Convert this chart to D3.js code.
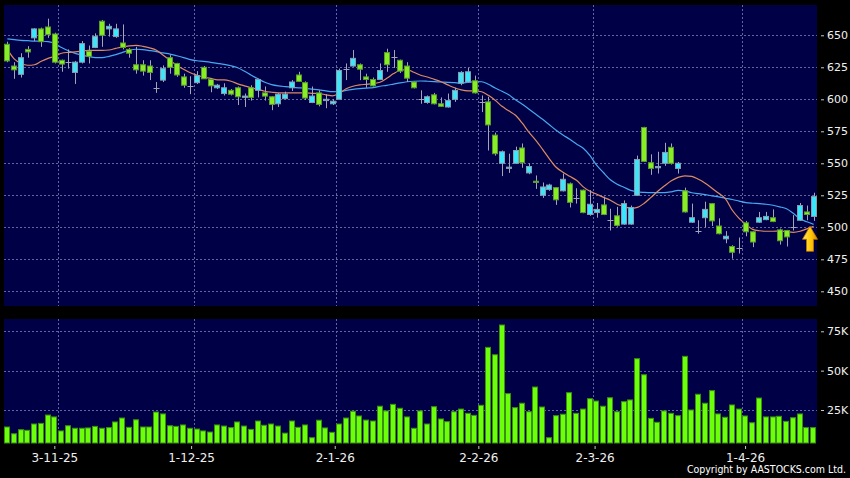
<!DOCTYPE html>
<html>
<head>
<meta charset="utf-8">
<script src="https://d3js.org/d3.v7.min.js"></script>
<style>
body {margin:0; background:#000;}
svg {display:block; font-family:"DejaVu Sans", sans-serif;}
</style>
</head>
<body>
<svg id="chart" width="850" height="478"></svg>
<script>
// daily candles, oldest first (HK$)
var opens = [643,626,619.5,639,648,655,656.5,651,630.5,629.5,
  621,629,637.5,640.5,661,655,649,644,639,627,
  627,626,609,615,632.5,628,617.5,610,613,625,
  615.5,609,604.5,607,609,601.5,609,607,605,602,
  596.5,600.5,609,619,613,597.5,605,599,596.5,600,
  624,626,627,617.5,615.5,615.5,636.5,633,630.5,626,
  613.5,600,597.5,603.5,596.5,594,600,612.5,613.5,614.5,
  598,598,572,550,546,550,562,542.5,536,525,
  529.5,531,528.5,534,522.5,529,510,511.5,517.5,506,
  509,502.5,502.5,525,578,550.5,546.5,550,562.5,546,
  528.5,504,497.5,507.5,518.5,501,491,485,484,503.5,
  496.5,504,506,507.5,498,497.5,500,505.5,512,508.5];
var highs = [645,629,636,641.5,655.5,656,663,652,631,639,
  630,645.5,642,651.5,662,659,659,658.5,640,641,
  630.5,630.5,613.5,626.5,634.5,628.5,620,618,622,626,
  616.5,612,612.5,608,610,604.5,611,616,610,602.5,
  605,606,615,621.5,614,610,607,604,600,624,
  628,638.5,628,620,617,628,639.5,638.5,631,629,
  614,607,603,605,601.5,604.5,609,622,624.5,618.5,
  603,602,574,560,557.5,563,565.5,550,540.5,535,
  534,531.5,542,535,530.5,529.5,529,519,524,514.5,
  516,521,517,556,578.5,557,559,566,565.5,551,
  531,518.5,505.5,520,519,507,497,486,492,505,
  497,512,512,514,499,498,509.5,519,517,527];
var lows = [629,616,617,632.5,645.5,641,648,628,621.5,624,
  612,628,628,640,641,649,648,639,632.5,620,
  618.5,615,605,613.5,620,617.5,609,604,612,616,
  605.5,608,603,603,595.5,594,599,601.5,599,591.5,
  594,600,606.5,613.5,599.5,597,594.5,593,595.5,600,
  615,625.5,615,609,610,615,621.5,624.5,620.5,613.5,
  608.5,596.5,596.5,596,594,593.5,598,611,613,604.5,
  590,560,556,540,542.5,549.5,546.5,541.5,530,523,
  528.5,517.5,528,515.5,518.5,511,509,507.5,509.5,497.5,
  500.5,502,502,524.5,551,541,542,548,549,542,
  511.5,503.5,495,500,501,494.5,487.5,475.5,479.5,493,
  484.5,503.5,505.5,504,486.5,485,497.5,505,505.5,505];
var closes = [630,623,632.5,637,655,645,650.5,629,627.5,629.5,
  629,643.5,633.5,649,650,657,655,640.5,636,623,
  622,621,609,624,625,619,611,610,618.5,616,
  610.5,611,609,604,602,602.5,601.5,615.5,602.5,596,
  604,604,613.5,614,601,602.5,596,600,598.5,622.5,
  624,632,623.5,615.5,610.5,622.5,627,633,622,616.5,
  609,600,602,596.5,594.5,599,607,621,621.5,605,
  598,580,557.5,559,547,560,550.5,547.5,535,531.5,
  533,521.5,537.5,519.5,522.5,511.5,518,514,510,506,
  501.5,518.5,515.5,553,551.5,546,547.5,558.5,550,550,
  512,507.5,497.5,514,505,495,493,480.5,484,496.5,
  488.5,507.5,508.5,504.5,489.5,492.5,500,517,510,524];
// volume in thousands of shares
var volumes = [14.2,9.9,12.5,12.1,16.1,16.5,21.8,20.6,11.7,15.0,
  13.4,13.4,13.6,14.6,13.4,13.8,17.4,19.9,14.0,18.8,
  14.2,14.2,23.7,22.5,15.0,14.6,15.5,13.4,12.9,11.7,
  11.0,15.5,14.8,13.8,17.4,14.8,12.7,18.0,15.3,16.1,
  14.8,10.3,18.0,14.0,15.5,7.4,18.5,13.6,10.8,16.1,
  19.9,24.2,21.2,18.6,18.0,27.4,24.4,28.6,26.1,20.6,
  13.4,24.4,16.1,27.1,19.3,17.6,23.9,25.6,22.9,21.6,
  28.0,64.8,60.1,79.0,35.4,26.5,29.3,23.9,39.6,26.9,
  7.4,21.4,22.3,36.0,22.9,25.6,32.2,30.7,27.4,32.8,
  23.9,30.3,31.4,57.6,47.4,19.7,17.2,24.4,22.9,21.4,
  59.1,25.0,35.0,29.3,37.3,22.5,20.4,28.2,25.6,21.2,
  16.9,32.6,20.6,20.6,21.0,17.8,20.1,22.5,13.8,13.8];
// moving averages as drawn (orange = short, blue = long)
var maShort = [639,631.6,628.1,626.6,627,629.7,632,633.6,636,636.7,
  637.1,637.7,638.3,638.3,638.3,638.5,639.8,641,641.8,642.2,
  641.4,640.2,638.3,634.4,630.5,626.6,623.4,620.7,618.8,617.2,
  616.4,615.2,615.2,614.1,612.1,610.5,609,607.8,606.3,605.5,
  605,605,605,605,605,604.7,604.5,603.5,602.7,604.7,
  608.2,610.2,611.3,611.7,612.3,613.3,616.4,620.1,622.7,623.2,
  621.1,618.8,617.4,615.6,613.7,611.3,609,607.4,606.6,606.5,
  605.9,603.1,599.2,594.5,591,587.5,581.3,574.2,568,560.9,
  553.5,546.9,543,539.8,536.7,531.6,528.1,525.8,523.4,521.1,
  518,516.4,514.8,515.6,518.8,523.4,528.1,532.4,536.3,539,
  540.2,539.8,537.5,534.4,530.5,526.6,522.3,513.3,507,502.3,
  498.4,497.3,496.9,496.9,497.1,496.5,496.1,496.9,498.8,500.8];
var maLong = [647.2,646.6,646.1,645.8,645.5,645.4,645.1,643.8,640.4,637.9,
  635.9,634.5,633.4,632.6,632.6,633.6,634.9,636.7,638.3,639.1,
  638.8,638.1,637.3,636.2,635.3,634,632.6,631,630.1,629.7,
  628.9,628.1,627.3,626.2,624.6,621.9,618.8,616,613.3,611.5,
  610.5,609.9,609.4,609,608.6,608,607.4,606.6,606,605.9,
  607,607.8,608.4,608.8,609.1,610.2,610.9,611.9,612.9,613.7,
  614.1,614.3,614.1,613.8,613.5,613.3,613,612.7,613.3,613.8,
  613.7,611.7,608.8,606.3,603.5,599.6,596.1,592.2,588.3,584.4,
  580.1,575.8,572.1,568.8,565.1,561.7,555.9,548.4,542.6,537.1,
  533.6,531.3,528.9,527.7,527.3,527.1,527.1,527.1,527.7,528.8,
  528.5,527,526.3,525.5,524.6,523.7,522.7,521.7,520.5,519.3,
  518.8,518.5,518,517.2,516,514.5,510.9,506.6,504.3,502.3];
var monthIdx = [8, 28, 49, 70, 87, 109];
var monthLabels = ["3-11-25", "1-12-25", "2-1-26", "2-2-26", "2-3-26", "1-4-26"];
var priceTicks = [450, 475, 500, 525, 550, 575, 600, 625, 650];
var volTicks = [25, 50, 75];

var n = closes.length;
var left = 4, right = 817;
var pTop = 5, pBottom = 306;
var vTop = 319, vBottom = 443;

var svg = d3.select("#chart");
var x = d3.scaleLinear().domain([0, n]).range([left, right]);
// the date labels sit on a slightly wider scale than the plot
var xLab = d3.scaleLinear().domain([0, n]).range([-0.4, 820.3]);
var y = d3.scaleLinear().domain([450, 650]).range([291.3, 35.3]);
var yv = d3.scaleLinear().domain([25, 75]).range([410, 331.3]);
function cx(i) { return Math.round(x(i + 0.5)) + 0.5; }

// panels
svg.append("rect").attr("x", left).attr("y", pTop).attr("width", right - left)
  .attr("height", pBottom - pTop).attr("fill", "#000046");
svg.append("rect").attr("x", left).attr("y", vTop).attr("width", right - left)
  .attr("height", vBottom - vTop).attr("fill", "#000046");

// grid
var grid = svg.append("g").attr("stroke", "#6464a4").attr("stroke-dasharray", "2,2");
grid.selectAll(".hp").data(priceTicks).enter().append("line")
  .attr("x1", left).attr("x2", right)
  .attr("y1", function(d) { return Math.round(y(d)) + 0.5; })
  .attr("y2", function(d) { return Math.round(y(d)) + 0.5; });
grid.selectAll(".hv").data(volTicks).enter().append("line")
  .attr("x1", left).attr("x2", right)
  .attr("y1", function(d) { return Math.round(yv(d)) + 0.5; })
  .attr("y2", function(d) { return Math.round(yv(d)) + 0.5; });
[[pTop, pBottom], [vTop, vBottom]].forEach(function(r) {
  grid.selectAll(null).data(monthIdx).enter().append("line")
    .attr("x1", function(d) { return Math.round(x(d)) + 0.5; })
    .attr("x2", function(d) { return Math.round(x(d)) + 0.5; })
    .attr("y1", r[0]).attr("y2", r[1]);
});

// moving averages
var line = d3.line().curve(d3.curveMonotoneX)
  .x(function(d, i) { return x(i + 0.5); })
  .y(function(d) { return y(d); });
svg.append("path").datum(maLong).attr("d", line)
  .attr("fill", "none").attr("stroke", "#46a8f0").attr("stroke-width", 1.2);
svg.append("path").datum(maShort).attr("d", line)
  .attr("fill", "none").attr("stroke", "#de8a62").attr("stroke-width", 1.2);

// candles
var idx = d3.range(n);
var candles = svg.append("g").selectAll("g").data(idx).enter().append("g");
candles.append("line")
  .attr("x1", cx).attr("x2", cx)
  .attr("y1", function(i) { return y(highs[i]); })
  .attr("y2", function(i) { return y(lows[i]); })
  .attr("stroke", "#a4a4b4");
candles.filter(function(i) { return opens[i] !== closes[i]; })
  .append("rect")
  .attr("x", function(i) { return cx(i) - 3; })
  .attr("width", 5)
  .attr("y", function(i) { return y(Math.max(opens[i], closes[i])); })
  .attr("height", function(i) { return Math.max(1, Math.abs(y(opens[i]) - y(closes[i]))); })
  .attr("fill", function(i) { return closes[i] > opens[i] ? "#3ce6fa" : "#86ee22"; })
  .attr("stroke", function(i) { return closes[i] > opens[i] ? "#8a9cb0" : "#5a9a30"; });
candles.filter(function(i) { return opens[i] === closes[i]; })
  .append("line")
  .attr("x1", function(i) { return cx(i) - 3; })
  .attr("x2", function(i) { return cx(i) + 3; })
  .attr("y1", function(i) { return Math.round(y(closes[i])) + 0.5; })
  .attr("y2", function(i) { return Math.round(y(closes[i])) + 0.5; })
  .attr("stroke", "#a4a4b4");

// volume bars
svg.append("g").selectAll("rect").data(volumes).enter().append("rect")
  .attr("x", function(d, i) { return Math.round(x(i)) + 0.5; })
  .attr("width", 5)
  .attr("y", function(d) { return yv(d); })
  .attr("height", function(d) { return vBottom - yv(d); })
  .attr("fill", "#6cff0a")
  .attr("stroke", "#3a9010");

// axes
function styleAxis(g, size) {
  g.select(".domain").remove();
  g.selectAll("line").attr("stroke", "#c8c8c8");
  g.selectAll("text").attr("fill", "#f0f0f0").style("font-size", size)
    .style("font-family", "DejaVu Sans, sans-serif");
}
svg.append("g").attr("transform", "translate(821,0)")
  .call(d3.axisRight(y).tickValues(priceTicks).tickSize(3).tickPadding(3))
  .call(styleAxis, "11px");
svg.append("g").attr("transform", "translate(821,0)")
  .call(d3.axisRight(yv).tickValues(volTicks).tickSize(3).tickPadding(3)
    .tickFormat(function(d) { return d + "K"; }))
  .call(styleAxis, "11px");
svg.append("g").attr("transform", "translate(0," + (vBottom + 3) + ")")
  .call(d3.axisBottom(xLab).tickValues(monthIdx).tickSize(3).tickPadding(4)
    .tickFormat(function(d, k) { return monthLabels[k]; }))
  .call(styleAxis, "12px");

// up arrow at the last session
var defs = svg.append("defs");
var grad = defs.append("linearGradient").attr("id", "gold").attr("x1", 0).attr("x2", 1);
grad.append("stop").attr("offset", "0%").attr("stop-color", "#ffe860");
grad.append("stop").attr("offset", "60%").attr("stop-color", "#ffc400");
grad.append("stop").attr("offset", "100%").attr("stop-color", "#d88a00");
var ax = x(n - 0.5) - 3.6, ay = y(maShort[n - 1]);
svg.append("path")
  .attr("d", "M" + ax + "," + ay + " l7.5,13 h-4 v12 h-7 v-12 h-4 z")
  .attr("fill", "url(#gold)").attr("stroke", "#c07800").attr("stroke-width", 0.8);

svg.append("text").attr("x", 846).attr("y", 473).attr("text-anchor", "end")
  .attr("fill", "#ffffff")
  .style("font-family", "'DejaVu Sans Condensed', 'DejaVu Sans', sans-serif")
  .style("font-size", "10.5px")
  .text("Copyright by AASTOCKS.com Ltd.");
</script>
</body>
</html>
